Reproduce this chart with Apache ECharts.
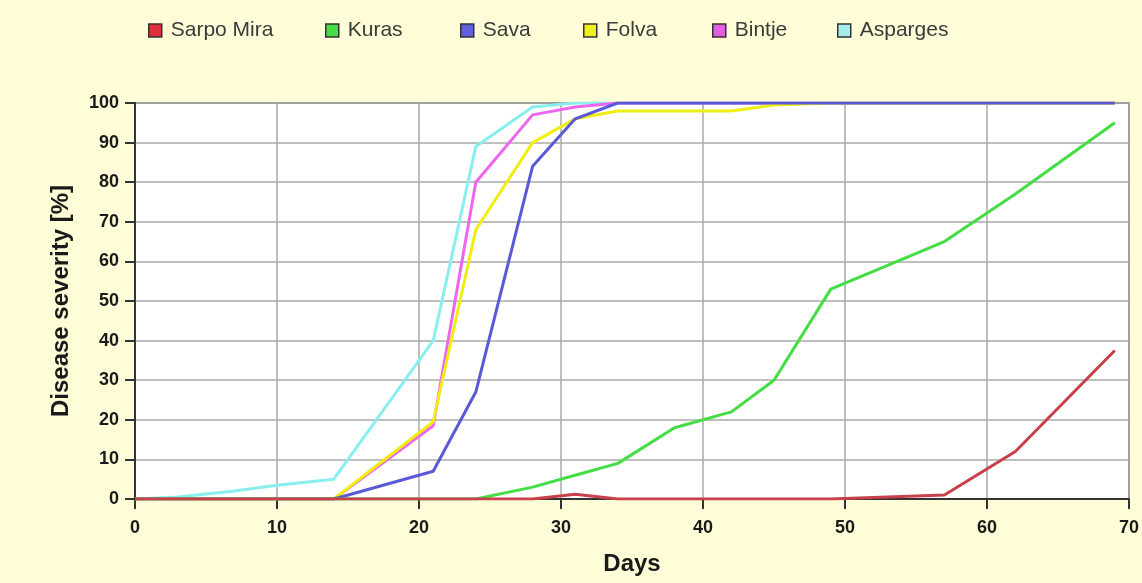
<!DOCTYPE html>
<html>
<head>
<meta charset="utf-8">
<script src="https://cdn.jsdelivr.net/npm/echarts@6/dist/echarts.min.js"></script>
<style>
html,body{margin:0;padding:0;background:#fffcd8;}
#c{width:1142px;height:583px;}
</style>
</head>
<body>
<div id="c"></div>
<script>
// Data
var days = [0, 3, 7, 10, 14, 21, 24, 28, 31, 34, 38, 42, 45, 49, 57, 62, 69];
var sarpoMira = [0, 0, 0, 0, 0, 0, 0, 0, 1.2, 0, 0, 0, 0, 0, 1, 12, 37.5];
var kuras     = [0, 0, 0, 0, 0, 0, 0, 3, 6, 9, 18, 22, 30, 53, 65, 77, 95];
var sava      = [0, 0, 0, 0, 0, 7, 27, 84, 96, 100, 100, 100, 100, 100, 100, 100, 100];
var folva     = [0, 0, 0, 0, 0, 19.5, 68, 90, 96, 98, 98, 98, 99.5, 100, 100, 100, 100];
var bintje    = [0, 0, 0, 0, 0, 18.5, 80, 97, 99, 100, 100, 100, 100, 100, 100, 100, 100];
var asparges  = [0, 0.5, 2, 3.5, 5, 40, 89, 99, 100, 100, 100, 100, 100, 100, 100, 100, 100];
var seriesNames = ['Sarpo Mira', 'Kuras', 'Sava', 'Folva', 'Bintje', 'Asparges'];
var seriesValues = [sarpoMira, kuras, sava, folva, bintje, asparges];
var xTicks = [0, 10, 20, 30, 40, 50, 60, 70];
var yTicks = [0, 10, 20, 30, 40, 50, 60, 70, 80, 90, 100];

// Styles
var lineColors = ['#c8404a', '#44dd44', '#5a5ad8', '#eeee10', '#ee66ee', '#88eeee'];
var iconColors = ['#e03040', '#44dd44', '#6060e0', '#f0f020', '#e060e0', '#a8ecec'];
var legendLefts = [143, 320, 455, 578, 707, 832];

var series = [];
for (var i = seriesNames.length - 1; i >= 0; i--) {
  series.push({
    name: seriesNames[i],
    type: 'line',
    symbol: 'none',
    data: days.map(function (d, k) { return [d, seriesValues[i][k]]; }),
    lineStyle: { width: 3, color: lineColors[i] },
    itemStyle: { color: lineColors[i] },
    z: 10 - i
  });
}

var legends = seriesNames.map(function (n, i) {
  return {
    data: [n],
    left: legendLefts[i],
    top: 15,
    icon: 'rect',
    itemWidth: 13,
    itemHeight: 13,
    itemStyle: { color: iconColors[i], borderColor: '#333', borderWidth: 1.5 },
    textStyle: { fontFamily: 'Liberation Sans, Arial', fontSize: 21, color: '#3a3a3a', padding: [0, 0, 0, 4] },
    selectedMode: false
  };
});

var chart = echarts.init(document.getElementById('c'));
chart.setOption({
  animation: false,
  backgroundColor: '#fffcd8',
  legend: legends,
  grid: {
    left: 135, right: 12, top: 103, bottom: 84,
    show: true, backgroundColor: '#ffffff', borderColor: '#555', borderWidth: 1.5
  },
  xAxis: {
    type: 'value',
    min: xTicks[0], max: xTicks[xTicks.length - 1], interval: 10,
    name: 'Days', nameLocation: 'middle', nameGap: 53,
    nameTextStyle: { fontFamily: 'Liberation Sans, Arial', fontWeight: 'bold', fontSize: 24, color: '#1a1a1a' },
    axisLine: { show: true, lineStyle: { color: '#333', width: 2 } },
    axisTick: { show: true, length: 10, lineStyle: { color: '#333', width: 2 } },
    axisLabel: { margin: 20, fontFamily: 'Liberation Sans, Arial', fontWeight: 'bold', fontSize: 18, color: '#1a1a1a' },
    splitLine: { show: true, lineStyle: { color: '#aaaaaa', width: 1.5 } }
  },
  yAxis: {
    type: 'value',
    min: yTicks[0], max: yTicks[yTicks.length - 1], interval: 10,
    name: 'Disease severity [%]', nameLocation: 'middle', nameGap: 62,
    nameTextStyle: { fontFamily: 'Liberation Sans, Arial', fontWeight: 'bold', fontSize: 24, color: '#1a1a1a' },
    axisLine: { show: true, lineStyle: { color: '#333', width: 2 } },
    axisTick: { show: true, length: 10, lineStyle: { color: '#333', width: 2 } },
    axisLabel: { margin: 16, fontFamily: 'Liberation Sans, Arial', fontWeight: 'bold', fontSize: 18, color: '#1a1a1a' },
    splitLine: { show: true, lineStyle: { color: '#aaaaaa', width: 1.5 } }
  },
  series: series
});
</script>
</body>
</html>
